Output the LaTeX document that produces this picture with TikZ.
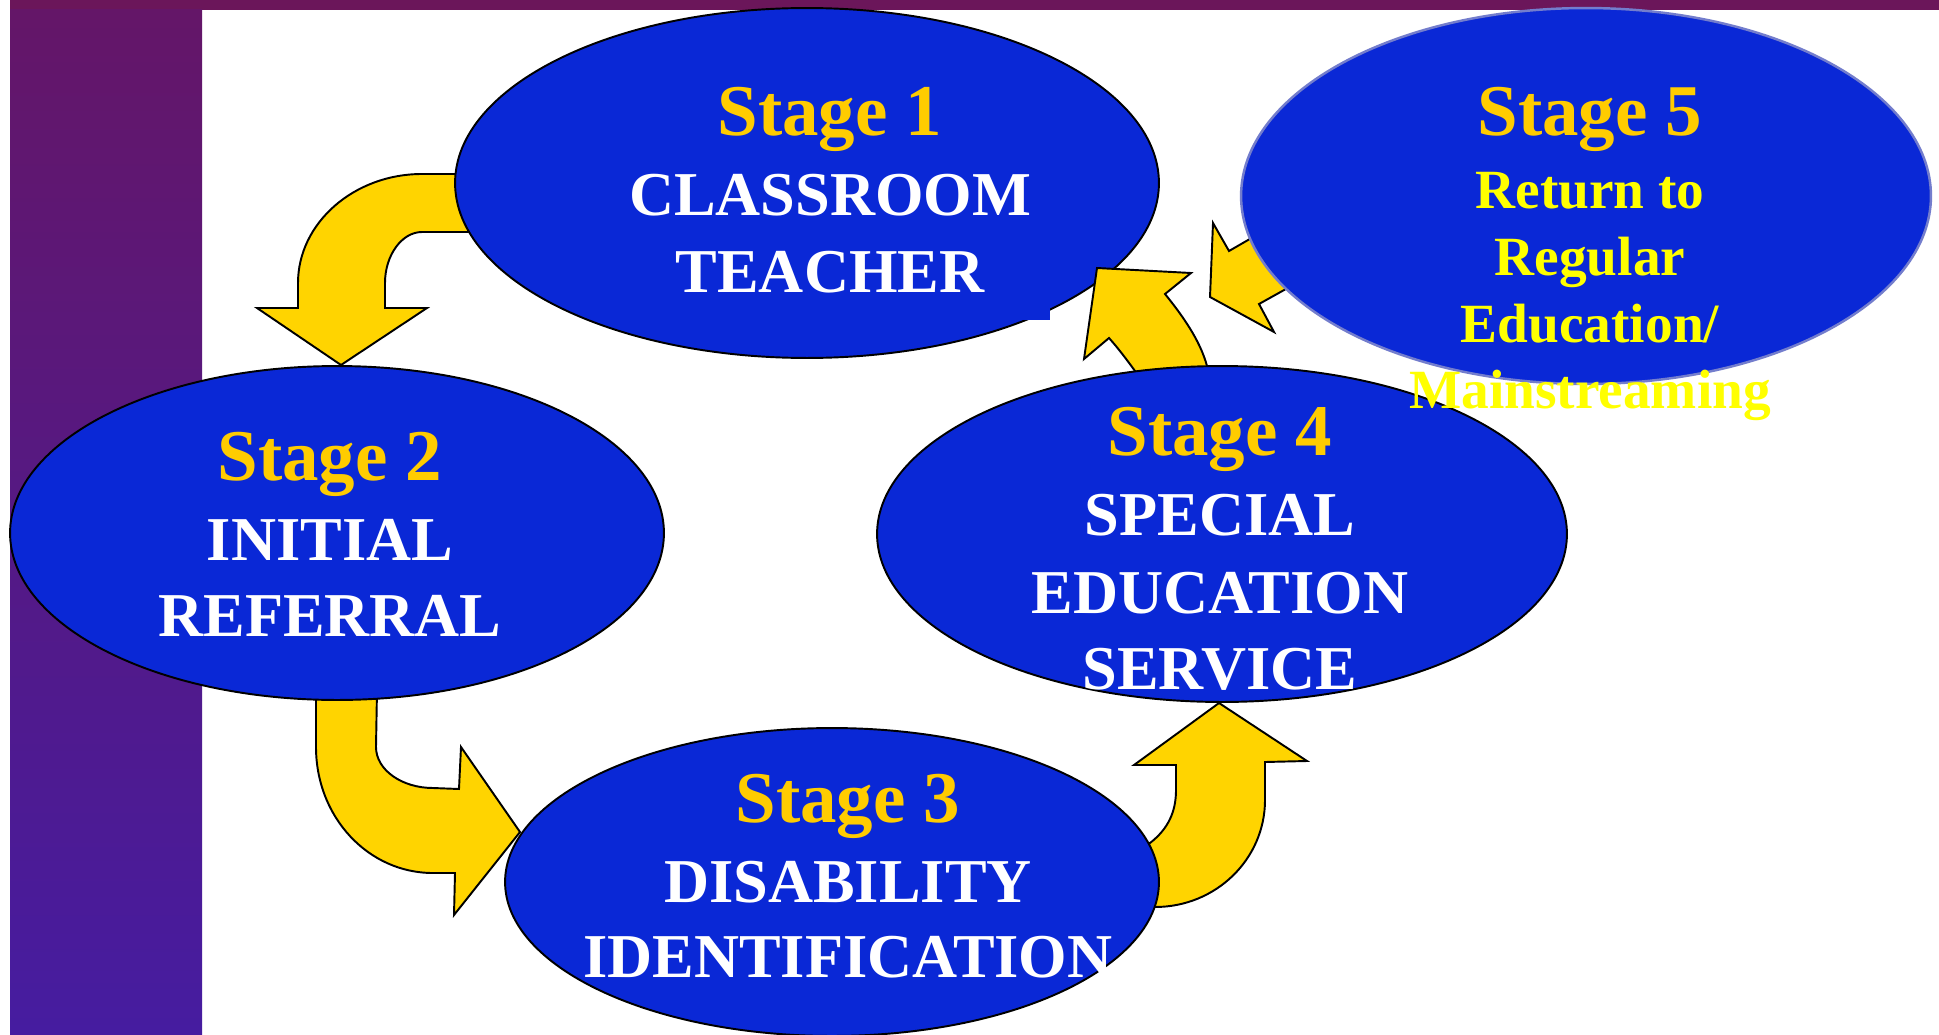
\documentclass[tikz,border=0pt]{standalone}
\usepackage{fontspec}
\setmainfont{Liberation Serif}
\usetikzlibrary{shapes.geometric}

\definecolor{bubbleblue}{RGB}{10,40,214}
\definecolor{rimblue}{RGB}{115,125,205}
\definecolor{arrowgold}{RGB}{255,212,0}
\definecolor{stagegold}{RGB}{255,204,0}
\definecolor{returnyellow}{RGB}{255,255,0}
\definecolor{barrim}{RGB}{107,22,90}
\definecolor{bartop}{RGB}{100,22,104}
\definecolor{barbottom}{RGB}{70,28,160}

\tikzset{
  bubble/.style={ellipse, draw=black, fill=bubbleblue, line width=1.1pt, inner sep=0pt},
  blockarrow/.style={draw=black, fill=arrowgold, line width=1.1pt, line join=miter},
  stagehead/.style={anchor=base, inner sep=0pt, text=stagegold, font=\bfseries\fontsize{41.5}{48}\selectfont},
  stageline/.style={anchor=base, inner sep=0pt, text=white, font=\bfseries\fontsize{35.5}{40}\selectfont},
  returnline/.style={anchor=base, inner sep=0pt, text=returnyellow, font=\bfseries\fontsize{31.5}{36}\selectfont},
}

\begin{document}
\begin{tikzpicture}[x=0.02cm, y=-0.02cm]
    \useasboundingbox[fill=white] (0, 0) rectangle (1939, 1034);

    % draw purple bars
    \fill[barrim] (10, 0) rectangle (1939, 10);
    \shade[top color=bartop, bottom color=barbottom] (10, 10) rectangle (202, 1034);

    % draw bent arrows behind the bubbles
    \filldraw[blockarrow] (480, 174) -- (422, 174) .. controls (354, 174) and (298, 223) .. (298, 283)
      -- (298, 308) -- (257, 308) -- (341, 365) -- (427, 308) -- (385, 308) -- (385, 283)
      .. controls (385, 255) and (402, 232) .. (422, 232) -- (480, 232) -- cycle;
    \filldraw[blockarrow] (316, 690) -- (316, 747) .. controls (316, 817) and (368, 873) .. (433, 873)
      -- (455, 873) -- (454, 915) -- (520, 832) -- (461, 747) -- (459, 789) -- (433, 788)
      .. controls (402, 788) and (376, 770) .. (376, 747) -- (377, 690) -- cycle;
    \filldraw[blockarrow] (1140, 843) -- (1150, 843) .. controls (1168, 829) and (1176, 812) .. (1176, 790)
      -- (1176, 765) -- (1134, 765) -- (1219, 703) -- (1307, 761) -- (1265, 762) -- (1265, 800)
      .. controls (1265, 859) and (1216, 907) .. (1155, 907) -- (1140, 907) -- cycle;

    % draw first three bubbles
    \node[bubble, minimum width=14.08cm, minimum height=7cm] (stageone) at (807, 183) {};
    \fill[bubbleblue] (900, 285) rectangle (1050, 320);
    \node[bubble, minimum width=13.08cm, minimum height=6.68cm] (stagetwo) at (337, 533) {};
    \node[bubble, minimum width=13.08cm, minimum height=6.16cm] (stagethree) at (832, 882) {};

    % draw arrows back to stage 1
    \filldraw[blockarrow] (1137, 385) -- (1135, 371) .. controls (1127, 360) and (1118, 348) .. (1109, 338)
      -- (1084, 359) -- (1097, 268) -- (1191, 273) -- (1165, 294)
      .. controls (1182, 315) and (1200, 340) .. (1207, 366) -- (1209, 380) -- cycle;
    \filldraw[blockarrow] (1210, 297) -- (1213, 223) -- (1229, 251) -- (1300, 210)
      -- (1320, 270) -- (1259, 304) -- (1274, 332) -- cycle;

    % draw last two bubbles
    \node[bubble, minimum width=13.8cm, minimum height=6.72cm] (stagefour) at (1222, 534) {};
    \node[bubble, draw=rimblue, line width=1.4pt, minimum width=13.8cm, minimum height=7.52cm] (stagefive) at (1586, 196) {};

    % draw labels
    \node[stagehead] (headone) at (830, 135) {Stage 1};
    \node[stageline] (classroom) at (830, 215) {CLASSROOM};
    \node[stageline] (teacher) at (830, 292) {TEACHER};

    \node[stagehead] (headtwo) at (330, 480) {Stage 2};
    \node[stageline] (initial) at (330, 560) {INITIAL};
    \node[stageline] (referral) at (330, 636) {REFERRAL};

    \node[stagehead] (headthree) at (848, 822) {Stage 3};
    \node[stageline] (disability) at (848, 902) {DISABILITY};
    \node[stageline] (identification) at (848, 977) {IDENTIFICATION};

    \node[stagehead] (headfour) at (1220, 455) {Stage 4};
    \node[stageline] (special) at (1220, 535) {SPECIAL};
    \node[stageline] (education) at (1220, 613) {EDUCATION};
    \node[stageline] (service) at (1220, 689) {SERVICE};

    \node[stagehead] (headfive) at (1590, 135) {Stage 5};
    \node[returnline] (returnto) at (1590, 208) {Return to};
    \node[returnline] (regular) at (1590, 275) {Regular};
    \node[returnline] (regeducation) at (1590, 342) {Education/};
    \node[returnline] (mainstream) at (1590, 408) {Mainstreaming};
\end{tikzpicture}
\end{document}
